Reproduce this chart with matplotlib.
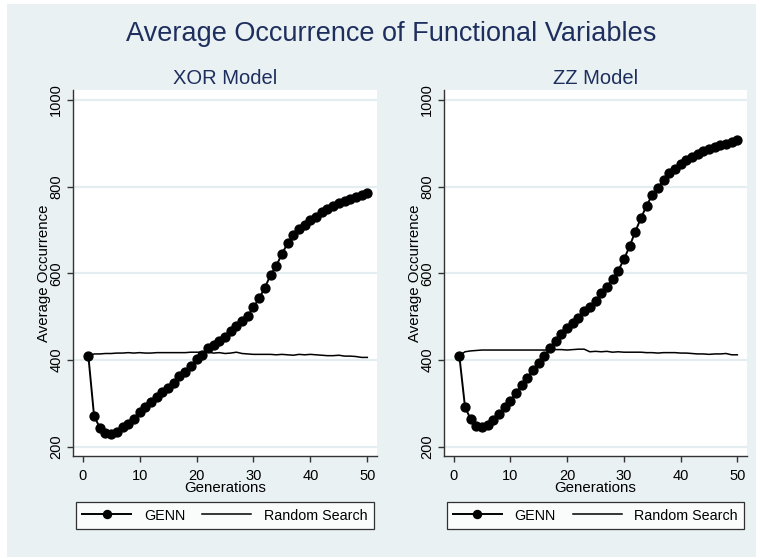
import numpy as np
import matplotlib
matplotlib.use('Agg')
import matplotlib.pyplot as plt
from matplotlib.patches import Rectangle

plt.rcParams['font.family'] = ['Liberation Sans', 'DejaVu Sans']

# generations 1..50
generations = list(range(1, 51))

# XOR model
xor_genn = [409, 271, 244, 232, 229, 234, 246, 252, 265, 281,
            292, 304, 314, 327, 336, 348, 362, 373, 387, 402,
            412, 427, 435, 444, 454, 468, 479, 490, 502, 522,
            542, 567, 596, 617, 645, 669, 688, 702, 712, 723,
            731, 742, 748, 755, 762, 768, 772, 777, 781, 785]
xor_random = [409, 414, 414, 415, 415, 416, 416, 417, 416, 417,
              416, 416, 417, 417, 417, 417, 417, 417, 418, 418,
              418, 418, 416, 417, 415, 416, 418, 415, 414, 413,
              413, 413, 413, 412, 413, 412, 411, 413, 412, 413,
              412, 411, 410, 410, 411, 409, 409, 408, 406, 406]

# ZZ model
zz_genn = [410, 292, 263, 248, 246, 249, 262, 275, 292, 306,
           325, 342, 359, 377, 392, 410, 428, 444, 459, 473,
           486, 498, 512, 523, 535, 554, 569, 587, 606, 632,
           662, 696, 727, 756, 781, 798, 815, 831, 841, 852,
           862, 868, 875, 882, 886, 891, 895, 899, 903, 908]
zz_random = [410, 419, 421, 422, 423, 423, 423, 423, 423, 423,
             423, 423, 423, 423, 423, 423, 423, 424, 424, 423,
             424, 425, 425, 419, 420, 419, 420, 418, 419, 418,
             418, 418, 418, 417, 417, 416, 417, 417, 417, 416,
             416, 415, 414, 414, 413, 414, 414, 415, 412, 412]

yticks = [200, 400, 600, 800, 1000]
xticks = [0, 10, 20, 30, 40, 50]

W, H = 760, 558
bg = '#E9F1F3'
navy = '#1E2F5E'

fig = plt.figure(figsize=(W / 100, H / 100), dpi=100)
fig.patch.set_facecolor('white')
fig.patches.append(Rectangle((7 / W, 1 - 557 / H), 749 / W, 553 / H,
                             transform=fig.transFigure, facecolor=bg,
                             edgecolor='none', zorder=-10))

fig.text(391 / W, 1 - 34 / H, 'Average Occurrence of Functional Variables',
         ha='center', va='center', fontsize=19.5, color=navy)


def panel(x0, x1, title, genn, rand, leg_x):
    top, bottom = 90, 456
    ax = fig.add_axes([x0 / W, 1 - bottom / H, (x1 - x0) / W, (bottom - top) / H])
    ax.set_facecolor('white')
    for y in yticks:
        ax.axhline(y, color='#E4EEF1', lw=1.6, zorder=0)
    ax.plot(generations, genn, color='black', lw=1.4, marker='o',
            markersize=6.4, label='GENN', zorder=3)
    ax.plot(generations, rand, color='black', lw=1.1,
            label='Random Search', zorder=2)
    ax.set_xlim(-1.7, 51.7)
    ax.set_ylim(178.5, 1023)
    ax.set_xticks(xticks)
    ax.set_yticks(yticks)
    ax.set_yticklabels([str(v) for v in yticks], rotation=90, va='center')
    ax.tick_params(length=4, width=1, color='#333333', labelsize=10.5)
    ax.tick_params(axis='x', pad=5)
    ax.tick_params(axis='y', pad=3)
    for s in ['top', 'right']:
        ax.spines[s].set_visible(False)
    for s in ['left', 'bottom']:
        ax.spines[s].set_color('#333333')
        ax.spines[s].set_linewidth(1)
    ax.set_xlabel('Generations', fontsize=10.8, labelpad=-1)
    ax.set_ylabel('Average Occurrence', fontsize=10.8, labelpad=-1)
    ax.set_title(title, fontsize=14.5, color=navy, pad=4)
    leg = ax.legend(loc='center', bbox_to_anchor=(leg_x / W, 1 - 515.5 / H),
                    bbox_transform=fig.transFigure, ncol=2, fontsize=10.3,
                    frameon=True, fancybox=False, handlelength=3.4,
                    handletextpad=0.9, columnspacing=1.2, borderpad=0.45,
                    borderaxespad=0, markerscale=0.9)
    leg.get_frame().set_edgecolor('black')
    leg.get_frame().set_linewidth(0.9)
    return ax


panel(73, 377, 'XOR Model', xor_genn, xor_random, 225)
panel(444, 747, 'ZZ Model', zz_genn, zz_random, 595.5)

fig.savefig('out.png', dpi=100, facecolor=fig.get_facecolor())
